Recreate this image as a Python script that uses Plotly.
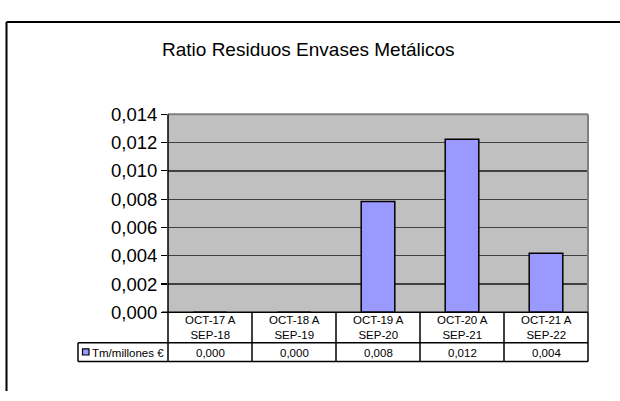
import plotly.graph_objects as go

categories = ["OCT-17 A<br>SEP-18", "OCT-18 A<br>SEP-19", "OCT-19 A<br>SEP-20",
              "OCT-20 A<br>SEP-21", "OCT-21 A<br>SEP-22"]
values = [0.0, 0.0, 0.00784, 0.01224, 0.00417]
series_name = "Tm/millones €"
title_text = "Ratio Residuos Envases Metálicos"
y_ticks = [0.000, 0.002, 0.004, 0.006, 0.008, 0.010, 0.012, 0.014]

W, H = 620, 401
FONT = "Liberation Sans, Arial, sans-serif"

def px(x):
    return x / W

def py(y):
    return 1 - y / H

# plot area in pixels
L, R, T, B = 168, 588, 109, 318
ROW1, ROW2 = 350, 370
LEG_L = 78

fig = go.Figure()
fig.add_trace(go.Bar(
    x=list(range(len(categories))), y=values, width=0.4,
    marker=dict(color="#9999FF", line=dict(color="black", width=1.5)),
    name=series_name, showlegend=False, hoverinfo="skip",
))

fig.update_layout(
    width=W, height=H,
    margin=dict(l=0, r=0, t=0, b=0),
    paper_bgcolor="white", plot_bgcolor="#C0C0C0",
    separators=",.",
    xaxis=dict(domain=[px(L), px(R)], range=[-0.5, len(categories) - 0.5],
               showticklabels=False, showgrid=False, zeroline=False,
               fixedrange=True),
    yaxis=dict(domain=[py(B), py(T)], range=[0, 0.014], tickvals=y_ticks,
               tickformat=".3f", ticks="outside", ticklen=6, tickcolor="black",
               tickwidth=1.2,
               tickfont=dict(family=FONT, size=18.5, color="black"),
               showgrid=True, gridcolor="#404040", gridwidth=1.3,
               zeroline=False, showline=False, fixedrange=True),
)

shapes = []
def line(x0, y0, x1, y1, color="black", width=1.5):
    shapes.append(dict(type="line", xref="paper", yref="paper",
                       x0=px(x0), y0=py(y0), x1=px(x1), y1=py(y1),
                       line=dict(color=color, width=width)))

# outer frame (left and top visible)
line(6.5, 11.5, 6.5, 401, width=2)
line(6.5, 11.5, 620, 11.5, width=2)
# plot border top/right
line(L, T, R, T, color="#808080", width=2)
line(R, T, R, B, color="#808080", width=2)
# y-axis line through table
line(L, T, L, ROW2, width=1.5)
# table horizontals
line(L - 6, B, R, B, width=1.5)
line(LEG_L, ROW1, R, ROW1, width=1.5)
line(LEG_L, ROW2, R, ROW2, width=1.5)
line(LEG_L, ROW1, LEG_L, ROW2, width=1.5)
colw = (R - L) / len(categories)
for i in range(1, len(categories) + 1):
    line(L + i * colw, B, L + i * colw, ROW2, width=1.5)
# legend marker
shapes.append(dict(type="rect", xref="paper", yref="paper",
                   x0=px(82.5), x1=px(89), y0=py(356.5), y1=py(363),
                   fillcolor="#9999FF", line=dict(color="black", width=1.2)))
fig.update_layout(shapes=shapes)

ann = []
ann.append(dict(text=title_text, xref="paper", yref="paper", x=px(308), y=py(41),
                showarrow=False, font=dict(family=FONT, size=19, color="black"),
                xanchor="center", yanchor="middle"))
for i, (c, v) in enumerate(zip(categories, values)):
    ann.append(dict(text=c, xref="x", yref="paper", x=i, y=py(334),
                    showarrow=False, font=dict(family=FONT, size=11.5, color="black"),
                    xanchor="center", yanchor="middle"))
    ann.append(dict(text=f"{v:.3f}".replace(".", ","), xref="x", yref="paper", x=i, y=py(360.5),
                    showarrow=False, font=dict(family=FONT, size=11.5, color="black"),
                    xanchor="center", yanchor="middle"))
ann.append(dict(text=series_name, xref="paper", yref="paper", x=px(90), y=py(360.5),
                showarrow=False, font=dict(family=FONT, size=11.5, color="black"),
                xanchor="left", yanchor="middle"))
fig.update_layout(annotations=ann)

fig.write_html("out.html", config={"displayModeBar": False, "staticPlot": True},
               post_script="document.body.style.margin='0';document.body.style.overflow='hidden';")
